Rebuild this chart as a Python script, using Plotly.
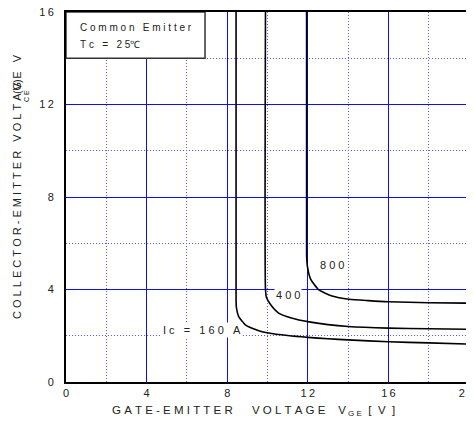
import plotly.graph_objects as go

# ---- data ----
x_ticks = [0, 4, 8, 12, 16, 20]
y_ticks = [0, 4, 8, 12, 16]

ic160_x = [8.44, 8.44, 8.46, 8.57, 8.9, 9.57, 10.05, 11, 12, 13, 14, 16, 18, 20]
ic160_y = [16, 3.5, 3.2, 2.83, 2.47, 2.22, 2.12, 2.01, 1.93, 1.87, 1.82, 1.74, 1.69, 1.64]

ic400_x = [9.9, 9.9, 9.95, 10.15, 10.55, 11.23, 12, 13, 14, 16, 18, 20]
ic400_y = [16, 4.0, 3.65, 3.35, 2.98, 2.76, 2.61, 2.48, 2.4, 2.33, 2.3, 2.28]

ic800_x = [11.94, 11.94, 11.98, 12.14, 12.55, 13.2, 14.05, 15, 16, 18, 20]
ic800_y = [16, 5.5, 5.0, 4.45, 3.98, 3.72, 3.58, 3.52, 3.47, 3.43, 3.41]

FONT = "Liberation Sans, Arial, sans-serif"
TXT = "#222222"


def sp(s, gap="\u00a0", word="\u00a0\u00a0\u00a0"):
    out = []
    for ch in s:
        if ch == " ":
            out.append(word)
        else:
            out.append(ch + gap)
    return "".join(out).rstrip(gap)


fig = go.Figure()
for xs, ys in [(ic160_x, ic160_y), (ic400_x, ic400_y), (ic800_x, ic800_y)]:
    fig.add_trace(go.Scatter(x=xs, y=ys, mode="lines",
                             line=dict(color="black", width=1.6, shape="spline", smoothing=0.5),
                             showlegend=False, hoverinfo="skip"))

grid_major = "#1010e0"
grid_minor = "#5a5aff"

common_axis = dict(showline=True, linecolor="black", linewidth=2, mirror=True,
                   showgrid=True, gridcolor=grid_major, gridwidth=1.2,
                   minor=dict(dtick=2, showgrid=True, gridcolor=grid_minor,
                              griddash="1px,2px", gridwidth=1),
                   zeroline=False, ticks="", automargin=False,
                   ticklabeloverflow="allow",
                   tickfont=dict(family=FONT, size=11, color=TXT))

x_ticktext = [sp(str(v), gap="\u2009") for v in x_ticks]
x_ticktext[-1] = x_ticktext[-1] + "\u00a0\u00a0"  # keep the last label inside the page
fig.update_xaxes(range=[0, 20], tickvals=x_ticks, ticktext=x_ticktext, **common_axis)
fig.update_yaxes(range=[0, 16], tickvals=y_ticks,
                 ticktext=[sp(str(v), gap="\u2009") for v in y_ticks],
                 ticklabelstandoff=8, **common_axis)

# legend-like box
fig.add_shape(type="rect", xref="x", yref="y", x0=0, x1=6.9, y0=14, y1=16,
              fillcolor="white", line=dict(color="#333333", width=1.5), layer="above")

ann = []
ann.append(dict(x=0.6, y=15.33, xref="x", yref="y", text=sp("Common Emitter", word="\u00a0\u00a0"),
                showarrow=False, xanchor="left", yanchor="middle",
                font=dict(family=FONT, size=10, color=TXT)))
ann.append(dict(x=0.6, y=14.6, xref="x", yref="y", text=sp("Tc = 25", word="\u00a0\u00a0") + "\u2103",
                showarrow=False, xanchor="left", yanchor="middle",
                font=dict(family=FONT, size=10, color=TXT)))
ann.append(dict(x=11.04, y=3.77, xref="x", yref="y", text=sp("400"), showarrow=False,
                bgcolor="white", font=dict(family=FONT, size=11, color=TXT)))
ann.append(dict(x=13.18, y=5.06, xref="x", yref="y", text=sp("800"), showarrow=False,
                font=dict(family=FONT, size=11, color=TXT)))
ann.append(dict(x=6.77, y=2.27, xref="x", yref="y", text=sp("Ic = 160 A", word="\u00a0\u00a0"),
                showarrow=False, bgcolor="white", font=dict(family=FONT, size=11, color=TXT)))
# x title
x_title = (sp("GATE-EMITTER VOLTAGE", word="\u00a0" * 5) + "\u00a0" * 4 + "V"
           + "<sub>\u00a0" + sp("GE") + "</sub>\u00a0\u00a0" + sp("[V]", gap="\u00a0\u00a0"))
ann.append(dict(x=(253 - 66) / 403, y=-0.078, xref="paper", yref="paper",
                text=x_title,
                showarrow=False, xanchor="center", yanchor="middle",
                font=dict(family=FONT, size=11.5, color=TXT)))
# y title (plot area is 403 px wide starting 58 px into the figure)
ann.append(dict(x=-49 / 403, y=(382 - 187) / 370, xref="paper", yref="paper",
                text=sp("COLLECTOR-EMITTER VOLTAGE V", word="\u00a0\u00a0"), textangle=-90,
                showarrow=False, xanchor="center", yanchor="middle",
                font=dict(family=FONT, size=11, color=TXT)))
ann.append(dict(x=-40 / 403, y=(382 - 96) / 370, xref="paper", yref="paper",
                text=sp("CE"), textangle=-90,
                showarrow=False, xanchor="center", yanchor="middle",
                font=dict(family=FONT, size=7, color=TXT)))
ann.append(dict(x=-49 / 403, y=(382 - 87) / 370, xref="paper", yref="paper",
                text="(V)", textangle=-90,
                showarrow=False, xanchor="center", yanchor="middle",
                font=dict(family=FONT, size=11, color=TXT)))

# page body has an 8px margin: compensate so the plot area lands at x 66..469, y 12..382
fig.update_layout(width=466, height=420, margin=dict(l=58, r=5, t=4, b=46),
                  plot_bgcolor="white", paper_bgcolor="white", annotations=ann,
                  font=dict(family=FONT, color=TXT))

fig.write_html("out.html")
